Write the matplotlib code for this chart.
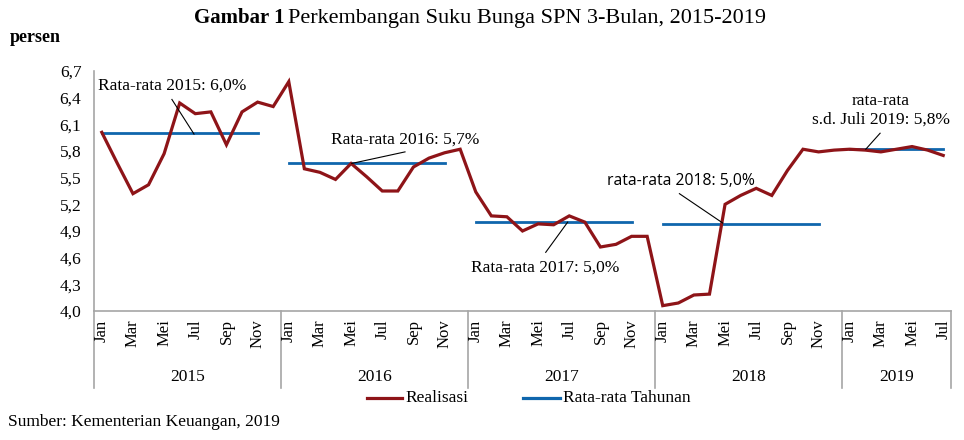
import matplotlib
matplotlib.use("Agg")
import matplotlib.pyplot as plt
import numpy as np

# data
years = ["2015", "2016", "2017", "2018", "2019"]
months_per_year = [12, 12, 12, 12, 7]
month_names = ["Jan", "Feb", "Mar", "Apr", "Mei", "Jun",
               "Jul", "Agu", "Sep", "Okt", "Nov", "Des"]

realisasi = [
    6.01, 5.66, 5.32, 5.42, 5.77, 6.34, 6.22, 6.24, 5.87, 6.24, 6.35, 6.30,   # 2015
    6.58, 5.60, 5.56, 5.48, 5.66, 5.51, 5.35, 5.35, 5.62, 5.72, 5.78, 5.82,   # 2016
    5.34, 5.07, 5.06, 4.90, 4.98, 4.97, 5.07, 5.00, 4.72, 4.75, 4.84, 4.84,   # 2017
    4.06, 4.09, 4.18, 4.19, 5.20, 5.30, 5.38, 5.30, 5.58, 5.82, 5.79, 5.81,   # 2018
    5.82, 5.81, 5.79, 5.82, 5.85, 5.81, 5.75,                                 # 2019
]
# annual averages as drawn (segment Jan..Nov, gap at Des)
rata_tahunan = [6.00, 5.67, 5.00, 4.98, 5.82]

# (text, text x, text y, leader start, leader end)
annotations = [
    ("Rata-rata 2015: 6,0%", 4.5, 6.54, (4.5, 6.38), (5.92, 5.99)),
    ("Rata-rata 2016: 5,7%", 19.46, 5.93, (19.46, 5.79), (16.04, 5.66)),
    ("Rata-rata 2017: 5,0%", 28.48, 4.49, (28.49, 4.66), (29.9, 5.00)),
    ("rata-rata 2018: 5,0%", 37.18, 5.46, (37.07, 5.32), (39.85, 4.99)),
    ("rata-rata\ns.d. Juli 2019: 5,8%", 50.0, 6.255, (49.95, 6.0), (49.03, 5.82)),
]

# build month index / avg series
n = len(realisasi)
x = np.arange(n)
month_labels = []
avg_series = []
for yi, cnt in enumerate(months_per_year):
    for m in range(cnt):
        month_labels.append(month_names[m])
        if cnt == 12 and m == 11:
            avg_series.append(np.nan)
        else:
            avg_series.append(rata_tahunan[yi])

serif = "Liberation Serif"
red = "#8e1418"
blue = "#0f66ad"
grey = "#a6a6a6"

fig = plt.figure(figsize=(9.64, 4.4), dpi=100)
ax = fig.add_axes([94 / 964, 1 - 311 / 440, 857 / 964, 240 / 440])

ax.plot(x, realisasi, color=red, lw=2.3, solid_joinstyle="miter", zorder=3)
ax.plot(x, avg_series, color=blue, lw=2.0, zorder=2)

ax.set_xlim(-0.5, n - 0.5)
ax.set_ylim(4.0, 6.7)
yt = np.round(np.arange(4.0, 6.71, 0.3), 1)
ax.set_yticks(yt)
ax.set_yticklabels([f"{v:.1f}".replace(".", ",") for v in yt],
                   fontsize=12.5, family=serif)
ax.tick_params(axis="y", length=0, pad=9)
ax.set_xticks([])

for s in ["top", "right"]:
    ax.spines[s].set_visible(False)
for s in ["left", "bottom"]:
    ax.spines[s].set_color(grey)
    ax.spines[s].set_linewidth(1.2)

# multi-level category axis
xt = ax.get_xaxis_transform()
for i in range(n):
    if (i % 12) % 2 == 0:
        ax.text(i, -0.035, month_labels[i], transform=xt, rotation=90,
                ha="center", va="top", fontsize=12, family=serif)

start = 0
for yi, cnt in enumerate(months_per_year):
    ax.plot([start - 0.5, start - 0.5], [0, -0.32], transform=xt,
            color=grey, lw=1.2, clip_on=False)
    ax.text(start + cnt / 2 - 0.5, -0.275, years[yi], transform=xt,
            ha="center", va="center", fontsize=12.5, family=serif)
    start += cnt
ax.plot([n - 0.5, n - 0.5], [0, -0.32], transform=xt,
        color=grey, lw=1.2, clip_on=False)

# annotations with leader lines
for text, tx, ty, p0, p1 in annotations:
    if "2018" in text:
        fam, fs = ["Open Sans", "DejaVu Sans"], 11.3
    else:
        fam, fs = serif, 12.5
    ax.text(tx, ty, text, fontsize=fs, family=fam, ha="center",
            va="center", linespacing=1.2, zorder=5)
    ax.plot([p0[0], p1[0]], [p0[1], p1[1]], color="black", lw=0.8, zorder=4)

# legend
leg_y = 1 - 398 / 440
fig.add_artist(plt.Line2D([367 / 964, 402 / 964], [leg_y, leg_y],
                          color=red, lw=2.3))
fig.text(405 / 964, leg_y, "Realisasi", fontsize=12.5, family=serif,
         va="center")
fig.add_artist(plt.Line2D([523 / 964, 560 / 964], [leg_y, leg_y],
                          color=blue, lw=2.3))
fig.text(563 / 964, leg_y, "Rata-rata Tahunan", fontsize=12.5, family=serif,
         va="center")

# titles
fig.text(284 / 964, 1 - 18 / 440, "Gambar 1", fontsize=15, family=serif,
         weight="bold", ha="right", va="center")
fig.text(288 / 964, 1 - 18 / 440,
         "Perkembangan Suku Bunga SPN 3-Bulan, 2015-2019",
         fontsize=16, family=serif, ha="left", va="center")
fig.text(10 / 964, 1 - 37 / 440, "persen", fontsize=13, family=serif,
         weight="bold", va="center")
fig.text(8 / 964, 1 - 422 / 440, "Sumber: Kementerian Keuangan, 2019",
         fontsize=12.5, family=serif, va="center")

fig.savefig("out.png", dpi=100)
